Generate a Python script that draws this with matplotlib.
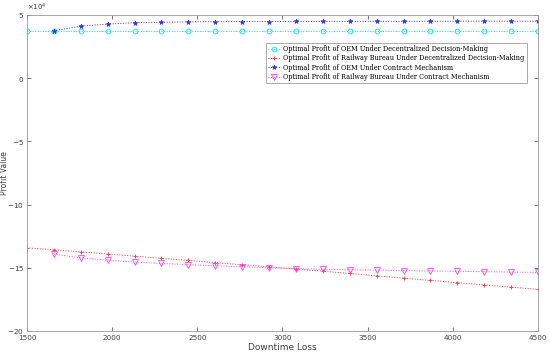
import matplotlib
matplotlib.use("Agg")
import matplotlib.pyplot as plt
import numpy as np

# downtime loss grid (20 points, 1500..4500)
downtime = [1500, 1658, 1816, 1974, 2132, 2289, 2447, 2605, 2763, 2921,
            3079, 3237, 3395, 3553, 3711, 3868, 4026, 4184, 4342, 4500]

# profits (raw units, axis shown x10^4)
oem_decentral = [37400] * 20
rail_decentral = [-134200, -135800, -137400, -139100, -140800, -142500, -144200, -145900,
                  -147600, -149300, -151000, -152700, -154500, -156400, -158200, -160000,
                  -161800, -163600, -165300, -167100]
oem_contract = [np.nan, 37400, 41100, 42700, 43800, 44100, 44500, 44600, 44700, 44700,
                44800, 44800, 44800, 44900, 44900, 44900, 45000, 45000, 45000, 45000]
rail_contract = [np.nan, -139200, -142200, -144000, -145500, -146600, -147600, -148400,
                 -149200, -150000, -150700, -151200, -151600, -151900, -152200, -152500,
                 -152800, -153100, -153400, -153700]

labels = [
    "Optimal Profit of OEM Under Decentralized Decision-Making",
    "Optimal Profit of Railway Bureau Under Decentralized Decision-Making",
    "Optimal Profit of OEM Under Contract Mechanism",
    "Optimal Profit of Railway Bureau Under Contract Mechanism",
]

fig = plt.figure(figsize=(5.5, 3.54), dpi=100)
ax = fig.add_axes([0.049, 0.065, 0.929, 0.893])

ax.plot(downtime, oem_decentral, ":", color="#00e5e5", lw=0.7, marker="o", ms=3.5,
        mfc="none", mew=0.6, label=labels[0])
ax.plot(downtime, rail_decentral, ":", color="#ff3030", lw=0.7, marker="+", ms=3.5,
        mew=0.6, label=labels[1])
ax.plot(downtime, oem_contract, ":", color="#3030ff", lw=0.7, marker="*", ms=3.5,
        mew=0.5, label=labels[2])
ax.plot(downtime, rail_contract, ":", color="#ff40ff", lw=0.7, marker="v", ms=4,
        mfc="none", mew=0.6, label=labels[3])

ax.set_xlim(1500, 4500)
ax.set_ylim(-200000, 50000)
ax.set_xticks(np.arange(1500, 4501, 500))
ax.set_yticks(np.arange(-200000, 50001, 50000))
ax.ticklabel_format(style="sci", axis="y", scilimits=(4, 4), useMathText=True)
ax.yaxis.get_offset_text().set_fontsize(5)
ax.yaxis.get_offset_text().set_color("#404040")

ax.tick_params(direction="in", top=True, right=True, labelsize=5.2, colors="#404040",
               length=3, width=0.5, pad=2)
ax.tick_params(axis="x", pad=3)
for s in ax.spines.values():
    s.set_color("#999999")
    s.set_linewidth(0.6)

ax.set_xlabel("Downtime Loss", fontsize=6.5, color="#404040", labelpad=1)
ax.set_ylabel("Profit Value", fontsize=5.5, color="#404040")
ax.yaxis.set_label_coords(-0.036, 0.5)

leg = ax.legend(loc="upper right", bbox_to_anchor=(0.978, 0.911),
                prop={"family": "DejaVu Serif", "size": 4.7}, frameon=True, fancybox=False,
                edgecolor="#888888", borderpad=0.3, labelspacing=0.2, handlelength=2.0,
                handletextpad=0.4, borderaxespad=0)
leg.get_frame().set_linewidth(0.6)

fig.savefig("out.png", dpi=100)
